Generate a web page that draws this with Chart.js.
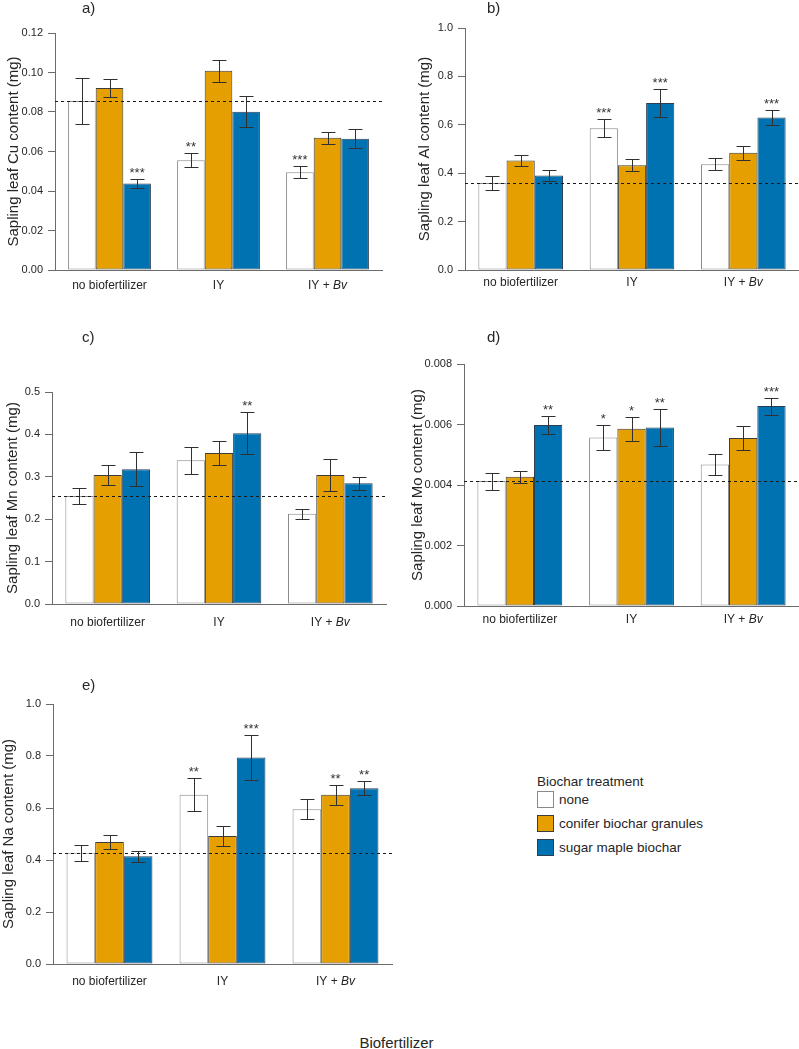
<!DOCTYPE html>
<html>
<head>
<meta charset="utf-8">
<script src="https://cdn.jsdelivr.net/npm/chart.js@4.4.1/dist/chart.umd.min.js"></script>
<style>
  html, body { margin: 0; padding: 0; background: #ffffff; }
  body { width: 799px; height: 1049px; position: relative; overflow: hidden;
         font-family: 'Liberation Sans', Arial, sans-serif; color: #262626; }
  canvas { position: absolute; }
  .letter { position: absolute; font-size: 15px; line-height: 16px; color: #262626; }
  .legend-title { position: absolute; left: 537px; top: 774px; font-size: 13.5px; line-height: 16px; color: #262626; }
  .legend-box { position: absolute; left: 537px; width: 15px; height: 15px; }
  .legend-text { position: absolute; left: 559px; font-size: 13.5px; line-height: 16px; color: #262626; }
  .xtitle { position: absolute; left: 0; width: 793px; text-align: center; top: 1034px; font-size: 15px; line-height: 17px; color: #262626; }
</style>
</head>
<body>
<canvas id="ca" width="400" height="300" style="left:0;top:0;width:400px;height:300px"></canvas>
<canvas id="cb" width="399" height="300" style="left:400px;top:0;width:399px;height:300px"></canvas>
<canvas id="cc" width="400" height="300" style="left:0;top:330px;width:400px;height:300px"></canvas>
<canvas id="cd" width="399" height="300" style="left:400px;top:330px;width:399px;height:300px"></canvas>
<canvas id="ce" width="400" height="330" style="left:0;top:660px;width:400px;height:330px"></canvas>

<div class="letter" style="left:82px;top:0px">a)</div>
<div class="letter" style="left:487px;top:0px">b)</div>
<div class="letter" style="left:82px;top:329px">c)</div>
<div class="letter" style="left:487px;top:329px">d)</div>
<div class="letter" style="left:82px;top:677px">e)</div>

<div id="legend"></div>
<div class="xtitle">Biofertilizer</div>

<script>
// ---------------- data ----------------
const categories = ['no biofertilizer', 'IY', 'IY + Bv'];
const italicSuffix = 'Bv';
const seriesNames = ['none', 'conifer biochar granules', 'sugar maple biochar'];
const legendTitle = 'Biochar treatment';
const xAxisTitle = 'Biofertilizer';

// a) Cu
const cuNone    = [0.0856, 0.0556, 0.0495];
const cuConifer = [0.0921, 0.1009, 0.0669];
const cuMaple   = [0.0438, 0.0801, 0.0664];
const cuErrNone    = [0.0118, 0.0034, 0.0030];
const cuErrConifer = [0.0047, 0.0055, 0.0032];
const cuErrMaple   = [0.0023, 0.0078, 0.0048];
const cuStarsNone    = ['', '**', '***'];
const cuStarsConifer = ['', '', ''];
const cuStarsMaple   = ['***', '', ''];
const cuControl = 0.0857;
const cuTicks = [0, 0.02, 0.04, 0.06, 0.08, 0.10, 0.12];

// b) Al
const alNone    = [0.360, 0.586, 0.437];
const alConifer = [0.452, 0.433, 0.484];
const alMaple   = [0.390, 0.690, 0.630];
const alErrNone    = [0.030, 0.037, 0.024];
const alErrConifer = [0.023, 0.025, 0.030];
const alErrMaple   = [0.022, 0.058, 0.031];
const alStarsNone    = ['', '***', ''];
const alStarsConifer = ['', '', ''];
const alStarsMaple   = ['', '***', '***'];
const alControl = 0.360;
const alTicks = [0, 0.2, 0.4, 0.6, 0.8, 1.0];

// c) Mn
const mnNone    = [0.255, 0.339, 0.213];
const mnConifer = [0.304, 0.356, 0.304];
const mnMaple   = [0.318, 0.403, 0.285];
const mnErrNone    = [0.018, 0.032, 0.0115];
const mnErrConifer = [0.023, 0.029, 0.037];
const mnErrMaple   = [0.040, 0.050, 0.015];
const mnStarsNone    = ['', '', ''];
const mnStarsConifer = ['', '', ''];
const mnStarsMaple   = ['', '**', ''];
const mnControl = 0.255;
const mnTicks = [0, 0.1, 0.2, 0.3, 0.4, 0.5];

// d) Mo
const moNone    = [0.00413, 0.00557, 0.00468];
const moConifer = [0.00427, 0.00586, 0.00555];
const moMaple   = [0.00598, 0.00590, 0.00661];
const moErrNone    = [0.00028, 0.00040, 0.00035];
const moErrConifer = [0.00020, 0.00040, 0.00040];
const moErrMaple   = [0.00030, 0.00060, 0.00028];
const moStarsNone    = ['', '*', ''];
const moStarsConifer = ['', '*', ''];
const moStarsMaple   = ['**', '**', '***'];
const moControl = 0.00413;
const moTicks = [0, 0.002, 0.004, 0.006, 0.008];

// e) Na
const naNone    = [0.428, 0.651, 0.595];
const naConifer = [0.469, 0.492, 0.651];
const naMaple   = [0.414, 0.794, 0.676];
const naErrNone    = [0.030, 0.064, 0.039];
const naErrConifer = [0.027, 0.040, 0.038];
const naErrMaple   = [0.022, 0.088, 0.026];
const naStarsNone    = ['', '**', ''];
const naStarsConifer = ['', '', '**'];
const naStarsMaple   = ['', '***', '**'];
const naControl = 0.428;
const naTicks = [0, 0.2, 0.4, 0.6, 0.8, 1.0];

// ---------------- style ----------------
const fillColors   = ['#ffffff', '#E69F00', '#0072B2'];
const borderColors = ['#8a8a8a', '#3c3c3c', '#2c3e50'];
const FONT = "'Liberation Sans', Arial, sans-serif";
const TICKFONT = "'Liberation Sans Narrow', 'Liberation Sans', Arial, sans-serif";
const INK = '#262626';
const AXIS = '#6b6b6b';
const YTITLE_SIZE = 15;

Chart.defaults.font.family = FONT;
Chart.defaults.color = INK;

function extras(cfg) {
  return {
    id: 'extras',
    afterDatasetsDraw(chart) {
      const ctx = chart.ctx, ys = chart.scales.y, area = chart.chartArea;
      ctx.save();
      chart.data.datasets.forEach((ds, di) => {
        const meta = chart.getDatasetMeta(di);
        meta.data.forEach((bar, j) => {
          const v = ds.data[j], e = ds.err[j];
          const yt = Math.round(ys.getPixelForValue(v + e)) + 0.5;
          const yb = Math.round(ys.getPixelForValue(v - e)) + 0.5;
          const x = Math.round(bar.x) + 0.5;
          ctx.strokeStyle = '#303030';
          ctx.lineWidth = 1;
          ctx.setLineDash([]);
          ctx.beginPath();
          ctx.moveTo(x, yt); ctx.lineTo(x, yb);
          ctx.moveTo(x - 7, yt); ctx.lineTo(x + 7, yt);
          ctx.moveTo(x - 7, yb); ctx.lineTo(x + 7, yb);
          ctx.stroke();
          if (ds.stars[j]) {
            ctx.font = '13px ' + FONT;
            ctx.fillStyle = '#333';
            ctx.textAlign = 'center';
            ctx.textBaseline = 'alphabetic';
            ctx.fillText(ds.stars[j], bar.x, yt - 2.5);
          }
        });
      });
      const yc = Math.round(ys.getPixelForValue(cfg.control)) + 0.5;
      ctx.setLineDash([3, 3]);
      ctx.strokeStyle = '#1a1a1a';
      ctx.lineWidth = 1;
      ctx.beginPath();
      ctx.moveTo(area.left, yc); ctx.lineTo(area.right, yc);
      ctx.stroke();
      ctx.restore();
    },
    afterDraw(chart) {
      const ctx = chart.ctx, xs = chart.scales.x;
      const y = chart.chartArea.bottom + cfg.labelOff;
      ctx.save();
      ctx.fillStyle = INK;
      ctx.textBaseline = 'middle';
      const normal = '12px ' + FONT, italic = 'italic 12px ' + FONT;
      chart.data.labels.forEach((lab, i) => {
        const x = xs.getPixelForValue(i);
        if (lab.endsWith(italicSuffix)) {
          const pre = lab.slice(0, lab.length - italicSuffix.length);
          ctx.font = normal; const w1 = ctx.measureText(pre).width;
          ctx.font = italic; const w2 = ctx.measureText(italicSuffix).width;
          const x0 = x - (w1 + w2) / 2;
          ctx.textAlign = 'left';
          ctx.font = normal; ctx.fillText(pre, x0, y);
          ctx.font = italic; ctx.fillText(italicSuffix, x0 + w1, y);
        } else {
          ctx.font = normal; ctx.textAlign = 'center';
          ctx.fillText(lab, x, y);
        }
      });
      ctx.restore();
    }
  };
}

function makePanel(cfg) {
  const vals = [cfg.none, cfg.conifer, cfg.maple];
  const errs = [cfg.errNone, cfg.errConifer, cfg.errMaple];
  const stars = [cfg.starsNone, cfg.starsConifer, cfg.starsMaple];
  const datasets = seriesNames.map((name, i) => ({
    label: name,
    data: vals[i],
    err: errs[i],
    stars: stars[i],
    backgroundColor: fillColors[i],
    borderColor: borderColors[i],
    borderWidth: 1,
    borderSkipped: false,
    categoryPercentage: 0.76,
    barPercentage: 1.0
  }));
  const titleLH = YTITLE_SIZE * 1.2;
  new Chart(document.getElementById(cfg.id), {
    type: 'bar',
    data: { labels: categories, datasets },
    options: {
      responsive: false,
      animation: false,
      devicePixelRatio: 1,
      layout: { padding: { left: 0, top: cfg.top, right: cfg.right, bottom: 0 } },
      plugins: { legend: { display: false }, tooltip: { enabled: false } },
      scales: {
        x: {
          grid: { display: false },
          border: { display: true, color: AXIS, width: 1 },
          ticks: { display: false },
          afterFit: (s) => { s.height = cfg.xH; }
        },
        y: {
          min: 0, max: cfg.max,
          grid: { drawOnChartArea: false, drawTicks: true, tickLength: 7, color: AXIS },
          border: { display: true, color: AXIS, width: 1 },
          ticks: {
            padding: 5, color: INK,
            font: { family: TICKFONT, size: 11 },
            callback: (v) => Number(v).toFixed(cfg.dec)
          },
          afterBuildTicks: (s) => { s.ticks = cfg.ticks.map(v => ({ value: v })); },
          title: {
            display: true, text: cfg.title, color: INK,
            font: { family: FONT, size: YTITLE_SIZE },
            padding: { top: Math.max(0, cfg.titleX - titleLH / 2), bottom: 0 }
          },
          afterFit: (s) => { s.width = cfg.yW; }
        }
      }
    },
    plugins: [extras(cfg)]
  });
}

makePanel({ id: 'ca', title: 'Sapling leaf Cu content (mg)', none: cuNone, conifer: cuConifer, maple: cuMaple,
  errNone: cuErrNone, errConifer: cuErrConifer, errMaple: cuErrMaple,
  starsNone: cuStarsNone, starsConifer: cuStarsConifer, starsMaple: cuStarsMaple,
  control: cuControl, ticks: cuTicks, max: 0.12, dec: 2,
  top: 33, right: 18, yW: 55, xH: 30, labelOff: 16, titleX: 14 });

makePanel({ id: 'cb', title: 'Sapling leaf Al content (mg)', none: alNone, conifer: alConifer, maple: alMaple,
  errNone: alErrNone, errConifer: alErrConifer, errMaple: alErrMaple,
  starsNone: alStarsNone, starsConifer: alStarsConifer, starsMaple: alStarsMaple,
  control: alControl, ticks: alTicks, max: 1.0, dec: 1,
  top: 28, right: 0, yW: 65, xH: 30, labelOff: 13, titleX: 25 });

makePanel({ id: 'cc', title: 'Sapling leaf Mn content (mg)', none: mnNone, conifer: mnConifer, maple: mnMaple,
  errNone: mnErrNone, errConifer: mnErrConifer, errMaple: mnErrMaple,
  starsNone: mnStarsNone, starsConifer: mnStarsConifer, starsMaple: mnStarsMaple,
  control: mnControl, ticks: mnTicks, max: 0.5, dec: 1,
  top: 62, right: 14, yW: 52, xH: 26, labelOff: 19, titleX: 12.5 });

makePanel({ id: 'cd', title: 'Sapling leaf Mo content (mg)', none: moNone, conifer: moConifer, maple: moMaple,
  errNone: moErrNone, errConifer: moErrConifer, errMaple: moErrMaple,
  starsNone: moStarsNone, starsConifer: moStarsConifer, starsMaple: moStarsMaple,
  control: moControl, ticks: moTicks, max: 0.008, dec: 3,
  top: 34, right: 0, yW: 64, xH: 24, labelOff: 14, titleX: 17.5 });

makePanel({ id: 'ce', title: 'Sapling leaf Na content (mg)', none: naNone, conifer: naConifer, maple: naMaple,
  errNone: naErrNone, errConifer: naErrConifer, errMaple: naErrMaple,
  starsNone: naStarsNone, starsConifer: naStarsConifer, starsMaple: naStarsMaple,
  control: naControl, ticks: naTicks, max: 1.0, dec: 1,
  top: 44, right: 8, yW: 53, xH: 26, labelOff: 18, titleX: 9 });

// ---------------- legend (HTML) ----------------
(function buildLegend() {
  const root = document.getElementById('legend');
  const t = document.createElement('div');
  t.className = 'legend-title';
  t.textContent = legendTitle;
  root.appendChild(t);
  const boxTops = [791, 815, 839];
  seriesNames.forEach((name, i) => {
    const b = document.createElement('div');
    b.className = 'legend-box';
    b.style.top = boxTops[i] + 'px';
    b.style.background = fillColors[i];
    b.style.border = '1px solid ' + borderColors[i];
    root.appendChild(b);
    const tx = document.createElement('div');
    tx.className = 'legend-text';
    tx.style.top = (boxTops[i] + 1) + 'px';
    tx.textContent = name;
    root.appendChild(tx);
  });
})();
</script>
</body>
</html>
